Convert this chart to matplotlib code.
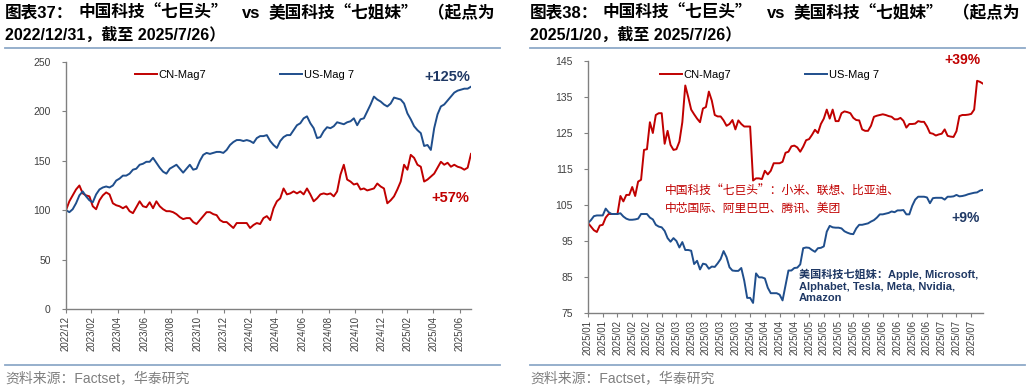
import numpy as np
import pandas as pd
import matplotlib
matplotlib.use("Agg")
import matplotlib.pyplot as plt
from matplotlib.lines import Line2D

plt.rcParams['font.family'] = ['Liberation Sans', 'Noto Sans CJK SC', 'DejaVu Sans']

# ---- data ----
series_names = ['CN-Mag7', 'US-Mag 7']

# chart 37: 2022/12/31 -> 2025/7/26, index = 100
long_start = '2022-12-31'
long_end = '2025-07-26'
cn_mag7_long = [100, 109, 115, 121, 125, 117, 115, 114, 104, 101,
                110, 115, 118, 116, 107, 105, 104, 102, 104, 99,
                97, 103, 109, 104, 103, 108, 102, 109, 104, 101,
                99, 99, 98, 96, 93, 91, 92, 92, 88, 86,
                90, 94, 98, 98, 96, 95, 90, 88, 88, 85,
                82, 87, 87, 87, 87, 82, 85, 87, 86, 92,
                94, 90, 102, 109, 112, 122, 116, 117, 119, 117,
                119, 116, 122, 116, 109, 112, 116, 117, 116, 117,
                114, 119, 136, 146, 131, 129, 126, 127, 121, 122,
                120, 121, 122, 127, 124, 122, 107, 110, 114, 121,
                129, 146, 141, 156, 153, 146, 144, 129, 131, 134,
                137, 143, 149, 146, 148, 144, 146, 144, 143, 141,
                143, 157]
us_mag7_long = [100, 98, 101, 107, 115, 119, 114, 110, 108, 116,
                121, 123, 124, 123, 125, 130, 132, 135, 135, 137,
                141, 142, 146, 147, 149, 149, 153, 148, 143, 139,
                137, 142, 144, 146, 142, 138, 142, 146, 141, 142,
                150, 156, 158, 157, 158, 159, 159, 158, 161, 166,
                169, 171, 171, 170, 171, 170, 168, 173, 175, 175,
                176, 170, 166, 163, 170, 174, 176, 176, 181, 186,
                188, 193, 195, 188, 183, 173, 174, 180, 184, 183,
                185, 189, 188, 187, 189, 190, 193, 186, 192, 193,
                200, 207, 215, 212, 210, 207, 205, 208, 214, 213,
                212, 208, 198, 192, 185, 181, 178, 165, 166, 161,
                183, 197, 205, 207, 211, 215, 219, 221, 222, 223,
                223, 225]
long_tick_labels = ['2022/12', '2023/02', '2023/04', '2023/06', '2023/08', '2023/10',
                    '2023/12', '2024/02', '2024/04', '2024/06', '2024/08', '2024/10',
                    '2024/12', '2025/02', '2025/04', '2025/06']
long_yticks = [0, 50, 100, 150, 200, 250]

# chart 38: 2025/1/20 -> 2025/7/25 trading days, index = 100
cn_mag7_short = [100, 99, 98, 97.5, 99.3, 99.5, 101.5, 102.5, 102.5, 102.5,
                 102.5, 107.5, 106, 107.8, 107.8, 110, 107.5, 111.5, 112, 120.3,
                 120.5, 128, 125, 130, 130.5, 130.5, 122, 125.6, 121.7, 120.3,
                 120.5, 122.6, 128, 138.2, 135, 131.5, 130.2, 129, 128, 131.8,
                 132.2, 136.5, 134, 130, 129.6, 129.6, 128.5, 127, 127.5, 128.6,
                 126, 128.5, 127.5, 126.8, 126.8, 126.8, 111.8, 112.4, 112.4, 112.2,
                 114.5, 113.5, 114.5, 116.6, 116.6, 116.6, 117, 119.5, 119.8, 121.3,
                 121.5, 121, 119.8, 121.2, 123, 123.3, 124.5, 125.9, 125, 127.5,
                 129, 131.5, 129, 131.5, 128.3, 128.3, 130.5, 131, 130.8, 130.5,
                 129.2, 128.6, 128.5, 126, 125.6, 125.6, 127, 129.5, 129.8, 130,
                 130.2, 130, 129.7, 129.5, 128.8, 128.8, 129.2, 128.4, 126.5, 127.5,
                 127.5, 127.6, 128.3, 128.1, 128.1, 126.8, 125, 124.8, 124.3, 124.6,
                 124.8, 126, 124.2, 124, 123.9, 125.5, 129.7, 130, 130, 130.1,
                 130.3, 131.5, 139.5, 139.2, 138.7]
us_mag7_short = [100, 100.8, 101.9, 102.1, 102.1, 102.1, 104, 103, 102.5, 102.5,
                 102.5, 102.7, 101.8, 101.2, 100.9, 100.9, 101, 101.2, 102.5, 102.5,
                 102.5, 101.5, 101, 99.5, 99, 98.8, 97.8, 95.8, 94.8, 95.8,
                 95, 93.2, 94.7, 92.5, 92.5, 92.3, 88.6, 89.5, 87.1, 88.7,
                 88.5, 87.3, 87.9, 87.8, 88.8, 90, 92.2, 90.5, 87.7, 86.8,
                 86.7, 86.7, 87.5, 84, 79.2, 79.2, 77.8, 86, 84.9, 84.9,
                 84.6, 82, 80.5, 80.5, 80.5, 80.1, 78.5, 82.6, 86.8, 86.8,
                 87.5, 87.6, 88.5, 93, 93.2, 93.1, 92.5, 92, 93, 93.1,
                 93.5, 97.6, 99.2, 98.8, 98.7, 98.7, 98.5, 97.7, 97.3, 97,
                 96.9, 98.5, 99.5, 99.5, 99.7, 99.9, 100.4, 100.8, 101.5, 102.4,
                 102.4, 102.6, 102.8, 103.2, 103, 103.5, 103.5, 103.6, 102.4, 102.4,
                 104.8, 106.5, 107.3, 107.3, 107.3, 107.1, 105.5, 106.9, 107, 107,
                 107, 106.5, 107.3, 107.3, 107.4, 107.8, 107.4, 107.5, 107.7, 108,
                 108.2, 108.4, 108.5, 109, 109.2]
short_tick_labels = (['2025/01'] * 2 + ['2025/02'] * 4 + ['2025/03'] * 5 + ['2025/04'] * 4
                     + ['2025/05'] * 4 + ['2025/06'] * 5 + ['2025/07'] * 3)
short_yticks = [75, 85, 95, 105, 115, 125, 135, 145]

# title line 1 pieces (text, offset from panel left edge in px)
title_pieces_37 = [('图表37：', 0), ('中国科技“七巨头”', 73), ('vs', 237),
                   ('美国科技“七姐妹”', 264), ('（起点为', 423)]
title_pieces_38 = [('图表38：', 0), ('中国科技“七巨头”', 73), ('vs', 237),
                   ('美国科技“七姐妹”', 264), ('（起点为', 423)]
title2_37 = '2022/12/31，截至 2025/7/26）'
title2_38 = '2025/1/20，截至 2025/7/26）'
source_text = '资料来源：Factset，华泰研究'
cn_note = '中国科技“七巨头”：小米、联想、比亚迪、\n中芯国际、阿里巴巴、腾讯、美团'
us_note = '美国科技七姐妹：Apple, Microsoft,\nAlphabet, Tesla, Meta, Nvidia,\nAmazon'

# ---- style ----
W, H = 1030, 390
RED = '#C00000'
BLUE = '#1F4E8C'
NAVY = '#1F3864'
RULE = '#8EA9C8'
AXIS = '#808080'
TICK = '#404040'
CJK_FIRST = ['Noto Sans CJK SC', 'Liberation Sans']


def fx(x):
    return x / W


def fy(y):
    return 1 - y / H


def style_axes(ax):
    for s in ['top', 'right']:
        ax.spines[s].set_visible(False)
    for s in ['left', 'bottom']:
        ax.spines[s].set_color(AXIS)
        ax.spines[s].set_linewidth(1.0)
    ax.tick_params(axis='both', colors=AXIS, labelcolor=TICK, length=3, width=0.8,
                   direction='out')
    ax.tick_params(axis='y', labelsize=7.5, pad=8)
    ax.tick_params(axis='x', labelsize=7, rotation=90, pad=2)


def add_legend(ax, x, y):
    ax.legend(series_names, loc='center left', bbox_to_anchor=(x, y), ncol=2,
              frameon=False, fontsize=8, handlelength=2.0, handletextpad=0.15,
              columnspacing=6.6, borderpad=0, borderaxespad=0)


def add_frame_text(left, pieces, title2):
    for txt, off in pieces:
        fam = CJK_FIRST if '“' in txt else None
        fig.text(fx(left + off), fy(13), txt, fontsize=12, fontweight='bold', va='center',
                 family=fam)
    fig.text(fx(left), fy(35), title2, fontsize=11.5, fontweight='bold', va='center')
    fig.add_artist(Line2D([fx(left), fx(left + 495)], [fy(48), fy(48)], color=RULE, lw=1.3))
    fig.add_artist(Line2D([fx(left), fx(left + 495)], [fy(365), fy(365)], color=RULE, lw=1.3))
    fig.text(fx(left), fy(378), source_text, fontsize=10, color='#7f7f7f', va='center')


fig = plt.figure(figsize=(W / 100, H / 100), dpi=100)

# ---- chart 37 ----
ax1 = fig.add_axes([fx(66), fy(309), fx(471 - 66), (309 - 62) / H])
d_long = pd.date_range(long_start, long_end, periods=len(cn_mag7_long))
ax1.plot(d_long, cn_mag7_long, color=RED, lw=1.4)
ax1.plot(d_long, us_mag7_long, color=BLUE, lw=1.4)
t0 = pd.Timestamp(long_start)
long_ticks = [t0 + pd.offsets.MonthEnd(2 * k) for k in range(len(long_tick_labels))]
ax1.set_xticks(long_ticks)
ax1.set_xticklabels(long_tick_labels)
ax1.set_xlim(pd.Timestamp(long_start), pd.Timestamp(long_end))
ax1.set_ylim(0, 250)
ax1.set_yticks(long_yticks)
style_axes(ax1)
add_legend(ax1, 0.17, 0.947)
ax1.text(0.941, 0.939, '+125%', transform=ax1.transAxes, color=NAVY, fontsize=10.5,
         fontweight='bold', ha='center', va='center')
ax1.text(0.948, 0.449, '+57%', transform=ax1.transAxes, color=RED, fontsize=10.5,
         fontweight='bold', ha='center', va='center')
add_frame_text(5, title_pieces_37, title2_37)

# ---- chart 38 ----
ax2 = fig.add_axes([fx(588), fy(313), fx(983 - 588), (313 - 61) / H])
x_short = np.arange(len(cn_mag7_short))
ax2.plot(x_short, cn_mag7_short, color=RED, lw=1.4)
ax2.plot(x_short, us_mag7_short, color=BLUE, lw=1.4)
ax2.set_xticks(np.arange(0, 5 * len(short_tick_labels), 5))
ax2.set_xticklabels(short_tick_labels)
ax2.set_xlim(0, len(cn_mag7_short) - 1)
ax2.set_ylim(75, 145)
ax2.set_yticks(short_yticks)
style_axes(ax2)
add_legend(ax2, 0.182, 0.944)
ax2.text(0.947, 1.004, '+39%', transform=ax2.transAxes, color=RED, fontsize=10,
         fontweight='bold', ha='center', va='center')
ax2.text(0.957, 0.377, '+9%', transform=ax2.transAxes, color=NAVY, fontsize=10,
         fontweight='bold', ha='center', va='center')
ax2.text(0.195, 0.45, cn_note, transform=ax2.transAxes, color=RED, fontsize=8.5,
         ha='left', va='center', linespacing=1.35, family=CJK_FIRST)
ax2.text(0.534, 0.107, us_note, transform=ax2.transAxes, color=NAVY, fontsize=8,
         fontweight='bold', ha='left', va='center', linespacing=1.2)
add_frame_text(530, title_pieces_38, title2_38)

fig.savefig('out.png', dpi=100)
